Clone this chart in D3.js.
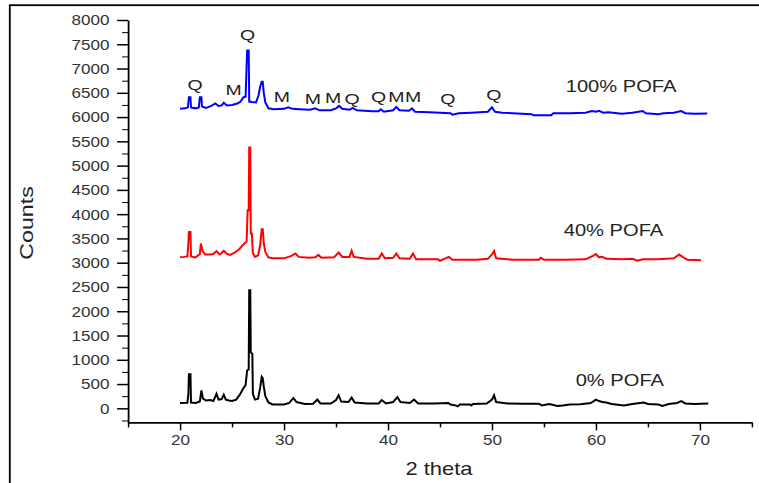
<!DOCTYPE html>
<html>
<head>
<meta charset="utf-8">
<script src="https://cdnjs.cloudflare.com/ajax/libs/d3/7.8.5/d3.min.js"></script>
<style>
  body { margin: 0; background: #fff; }
  svg { display: block; }
  text { font-family: Arial, "Liberation Sans", sans-serif; }
</style>
</head>
<body>
<svg width="759" height="483"></svg>
<script>
// 2 theta / counts pairs
var pofa0 = [[20.0,110],[20.7,115],[20.8,300],[20.85,700],[21.0,700],[21.05,120],[21.5,110],[21.9,140],[22.05,370],[22.2,200],[22.5,160],[22.9,170],[23.2,150],[23.5,300],[23.7,180],[24.0,190],[24.2,280],[24.4,180],[24.7,160],[25.0,150],[25.4,180],[25.8,300],[26.1,420],[26.3,480],[26.45,780],[26.6,800],[26.65,2430],[26.75,2430],[26.8,1150],[26.95,1130],[27.0,300],[27.2,180],[27.5,200],[27.7,420],[27.85,650],[27.95,620],[28.05,450],[28.2,250],[28.5,120],[28.9,80],[30.0,80],[30.5,110],[30.9,210],[31.2,130],[32.0,90],[32.8,95],[33.2,180],[33.5,100],[34.5,100],[35.0,170],[35.25,270],[35.5,140],[36.2,130],[36.5,220],[36.8,120],[38.0,100],[39.1,100],[39.4,170],[39.8,100],[40.5,130],[40.9,230],[41.2,130],[42.1,110],[42.5,180],[42.9,100],[44.5,100],[45.8,110],[46.0,80],[46.5,60],[46.7,40],[46.9,80],[47.9,80],[48.0,60],[48.2,90],[49.5,100],[50.0,180],[50.2,270],[50.4,130],[51.5,100],[53.0,95],[54.5,95],[54.8,60],[55.5,90],[56.3,50],[56.8,60],[57.5,80],[58.5,85],[59.5,110],[60.0,180],[60.3,150],[60.6,130],[61.0,120],[61.5,90],[62.7,60],[63.5,90],[64.6,120],[65.0,90],[66.0,80],[66.4,50],[67.0,90],[67.8,110],[68.2,150],[68.6,100],[69.5,90],[70.8,97]];

var pofa40 = [[20.0,3110],[20.4,3120],[20.7,3130],[20.8,3400],[20.85,3635],[21.0,3635],[21.05,3130],[21.5,3110],[21.9,3180],[22.0,3395],[22.15,3250],[22.4,3170],[22.8,3170],[23.2,3180],[23.5,3240],[23.8,3170],[24.0,3200],[24.2,3245],[24.5,3180],[24.8,3160],[25.2,3200],[25.6,3260],[25.9,3330],[26.2,3400],[26.4,3430],[26.5,4080],[26.6,4080],[26.65,5375],[26.75,5375],[26.8,3600],[26.9,3600],[27.0,3200],[27.2,3120],[27.5,3150],[27.7,3360],[27.85,3690],[27.95,3690],[28.05,3400],[28.2,3220],[28.5,3110],[28.9,3090],[30.0,3090],[30.7,3140],[31.1,3190],[31.4,3120],[32.4,3100],[33.0,3110],[33.3,3160],[33.6,3100],[34.8,3110],[35.25,3210],[35.6,3120],[36.3,3120],[36.5,3245],[36.7,3120],[38.0,3080],[39.1,3080],[39.4,3190],[39.7,3090],[40.5,3100],[40.8,3190],[41.1,3090],[42.1,3080],[42.4,3190],[42.7,3070],[44.8,3070],[45.0,3040],[45.3,3070],[45.85,3120],[46.2,3060],[48.5,3060],[49.6,3080],[50.0,3170],[50.2,3240],[50.4,3090],[52.0,3060],[54.5,3060],[54.7,3100],[55.0,3060],[57.0,3060],[59.0,3070],[59.7,3140],[60.0,3180],[60.3,3110],[60.6,3120],[61.0,3080],[62.5,3070],[63.5,3080],[64.0,3040],[64.5,3070],[66.0,3070],[67.5,3090],[68.0,3170],[68.4,3110],[68.8,3060],[70.1,3050]];

var pofa100 = [[20.0,6170],[20.5,6180],[20.75,6200],[20.85,6410],[21.0,6410],[21.05,6200],[21.5,6180],[21.8,6200],[21.9,6410],[22.05,6410],[22.1,6220],[22.5,6190],[23.0,6230],[23.4,6280],[23.7,6230],[24.0,6240],[24.2,6295],[24.5,6240],[25.0,6250],[25.5,6280],[25.8,6315],[26.1,6410],[26.3,6420],[26.45,7370],[26.6,7370],[26.65,6320],[26.9,6310],[27.3,6300],[27.55,6450],[27.7,6625],[27.85,6730],[27.95,6730],[28.05,6500],[28.2,6300],[28.5,6180],[29.0,6160],[30.0,6170],[30.4,6200],[30.8,6170],[31.5,6160],[32.5,6150],[33.0,6180],[33.4,6140],[34.5,6140],[35.0,6180],[35.3,6230],[35.6,6170],[36.3,6150],[36.6,6190],[37.0,6140],[38.5,6120],[39.1,6120],[39.3,6160],[39.6,6110],[40.5,6140],[40.8,6210],[41.1,6140],[42.0,6130],[42.3,6180],[42.6,6110],[44.0,6100],[45.0,6090],[46.0,6080],[46.2,6050],[46.8,6080],[48.0,6090],[49.6,6110],[50.0,6200],[50.3,6110],[51.0,6090],[52.0,6080],[53.8,6060],[54.0,6040],[55.7,6040],[55.9,6080],[57.5,6080],[59.0,6090],[59.6,6125],[60.0,6110],[60.3,6130],[60.7,6090],[61.2,6100],[62.5,6070],[63.5,6090],[64.5,6125],[64.8,6080],[66.0,6060],[66.5,6080],[67.5,6090],[68.2,6125],[68.6,6080],[69.5,6070],[70.7,6075]];

var seriesNames = ["0% POFA", "40% POFA", "100% POFA"];
var seriesColors = ["#000000", "#ff0000", "#0000ff"];
// where each name sits: [2 theta at left edge, counts at mid height]
var nameAnchors = [[58.05, 590], [56.9, 3663], [57.09, 6640]];

// phase marks over the 100% trace (Q = quartz, M = mullite)
var peakLabels = ["Q", "M", "Q", "M", "M", "M", "Q", "Q", "M", "M", "Q", "Q"];
var peakAngles = [21.45, 25.15, 26.5, 29.8, 32.78, 34.71, 36.54, 39.1, 40.81, 42.42, 45.75, 50.18];
var peakCounts = [6660, 6558, 7691, 6419, 6372, 6403, 6372, 6413, 6419, 6419, 6386, 6455];

var xTicks = [20, 30, 40, 50, 60, 70];
var yTicks = d3.range(0, 8001, 500);

var svg = d3.select("svg");

// outer frame of the figure
svg.append("rect")
  .attr("x", 9.8).attr("y", 5.2)
  .attr("width", 800).attr("height", 600)
  .attr("fill", "none")
  .attr("stroke", "#000")
  .attr("stroke-width", 1.8);

var x = d3.scaleLinear().domain([15, 75]).range([128.1, 751.9]);
var y = d3.scaleLinear().domain([-290, 8000]).range([422.4, 20]);

var stretch = 1.22;

// y axis with minor ticks
var yMinor = d3.range(-250, 8000, 500);
svg.append("g")
  .attr("transform", "translate(" + x(15) + ",0)")
  .call(d3.axisLeft(y).tickValues(yMinor).tickSize(6).tickFormat(""))
  .call(function(g) { g.select(".domain").remove(); });

var yAxis = svg.append("g")
  .attr("transform", "translate(" + x(15) + ",0)")
  .call(d3.axisLeft(y).tickValues(yTicks).tickSize(11).tickSizeOuter(0).tickFormat(d3.format("d")));
yAxis.select(".domain").attr("stroke-width", 1.8);
yAxis.selectAll(".tick line").attr("stroke-width", 1.5);
yAxis.selectAll(".tick text")
  .attr("x", 0).attr("dy", "0.35em")
  .attr("transform", "translate(-18.5,0) scale(" + stretch + ",1)")
  .attr("fill", "#333")
  .style("font-size", "14px");

// x axis
var xMinor = d3.range(15, 76, 10);
svg.append("g")
  .attr("transform", "translate(0," + y(-290) + ")")
  .call(d3.axisBottom(x).tickValues(xMinor).tickSize(5).tickFormat(""))
  .call(function(g) { g.select(".domain").remove(); })
  .selectAll("line").attr("stroke-width", 1.5);

var xAxis = svg.append("g")
  .attr("transform", "translate(0," + y(-290) + ")")
  .call(d3.axisBottom(x).tickValues(xTicks).tickSize(8).tickSizeOuter(0));
xAxis.select(".domain").attr("stroke-width", 1.8);
xAxis.selectAll(".tick line").attr("stroke-width", 1.5);
xAxis.selectAll(".tick text")
  .attr("y", 0).attr("dy", 0)
  .attr("transform", "translate(0,23) scale(" + stretch + ",1)")
  .attr("fill", "#333")
  .style("font-size", "14px");

// axis titles
svg.append("text")
  .attr("transform", "translate(439,469) scale(" + stretch + ",1)")
  .attr("text-anchor", "middle")
  .attr("dominant-baseline", "central")
  .attr("fill", "#222")
  .style("font-size", "18px")
  .text("2 theta");

svg.append("text")
  .attr("transform", "translate(26.5,223) scale(1," + stretch + ") rotate(-90)")
  .attr("text-anchor", "middle")
  .attr("dominant-baseline", "central")
  .attr("fill", "#222")
  .style("font-size", "19px")
  .text("Counts");

// traces
var line = d3.line()
  .x(function(d) { return x(d[0]); })
  .y(function(d) { return y(d[1]); });

var allSeries = [pofa0, pofa40, pofa100];
svg.selectAll("path.trace")
  .data(allSeries)
  .enter()
  .append("path")
  .attr("class", "trace")
  .attr("d", line)
  .attr("fill", "none")
  .attr("stroke", function(d, i) { return seriesColors[i]; })
  .attr("stroke-width", 2)
  .attr("stroke-linejoin", "miter");

// sample names
svg.selectAll("text.name")
  .data(seriesNames)
  .enter()
  .append("text")
  .attr("class", "name")
  .attr("transform", function(d, i) {
    return "translate(" + x(nameAnchors[i][0]) + "," + y(nameAnchors[i][1]) + ") scale(" + stretch + ",1)";
  })
  .attr("dominant-baseline", "central")
  .attr("fill", "#222")
  .style("font-size", "16.5px")
  .text(function(d) { return d; });

// phase letters
svg.selectAll("text.peak")
  .data(peakLabels)
  .enter()
  .append("text")
  .attr("class", "peak")
  .attr("transform", function(d, i) {
    return "translate(" + x(peakAngles[i]) + "," + y(peakCounts[i]) + ") scale(1.3,1)";
  })
  .attr("text-anchor", "middle")
  .attr("dominant-baseline", "central")
  .attr("fill", "#222")
  .style("font-size", "15px")
  .text(function(d) { return d; });
</script>
</body>
</html>
